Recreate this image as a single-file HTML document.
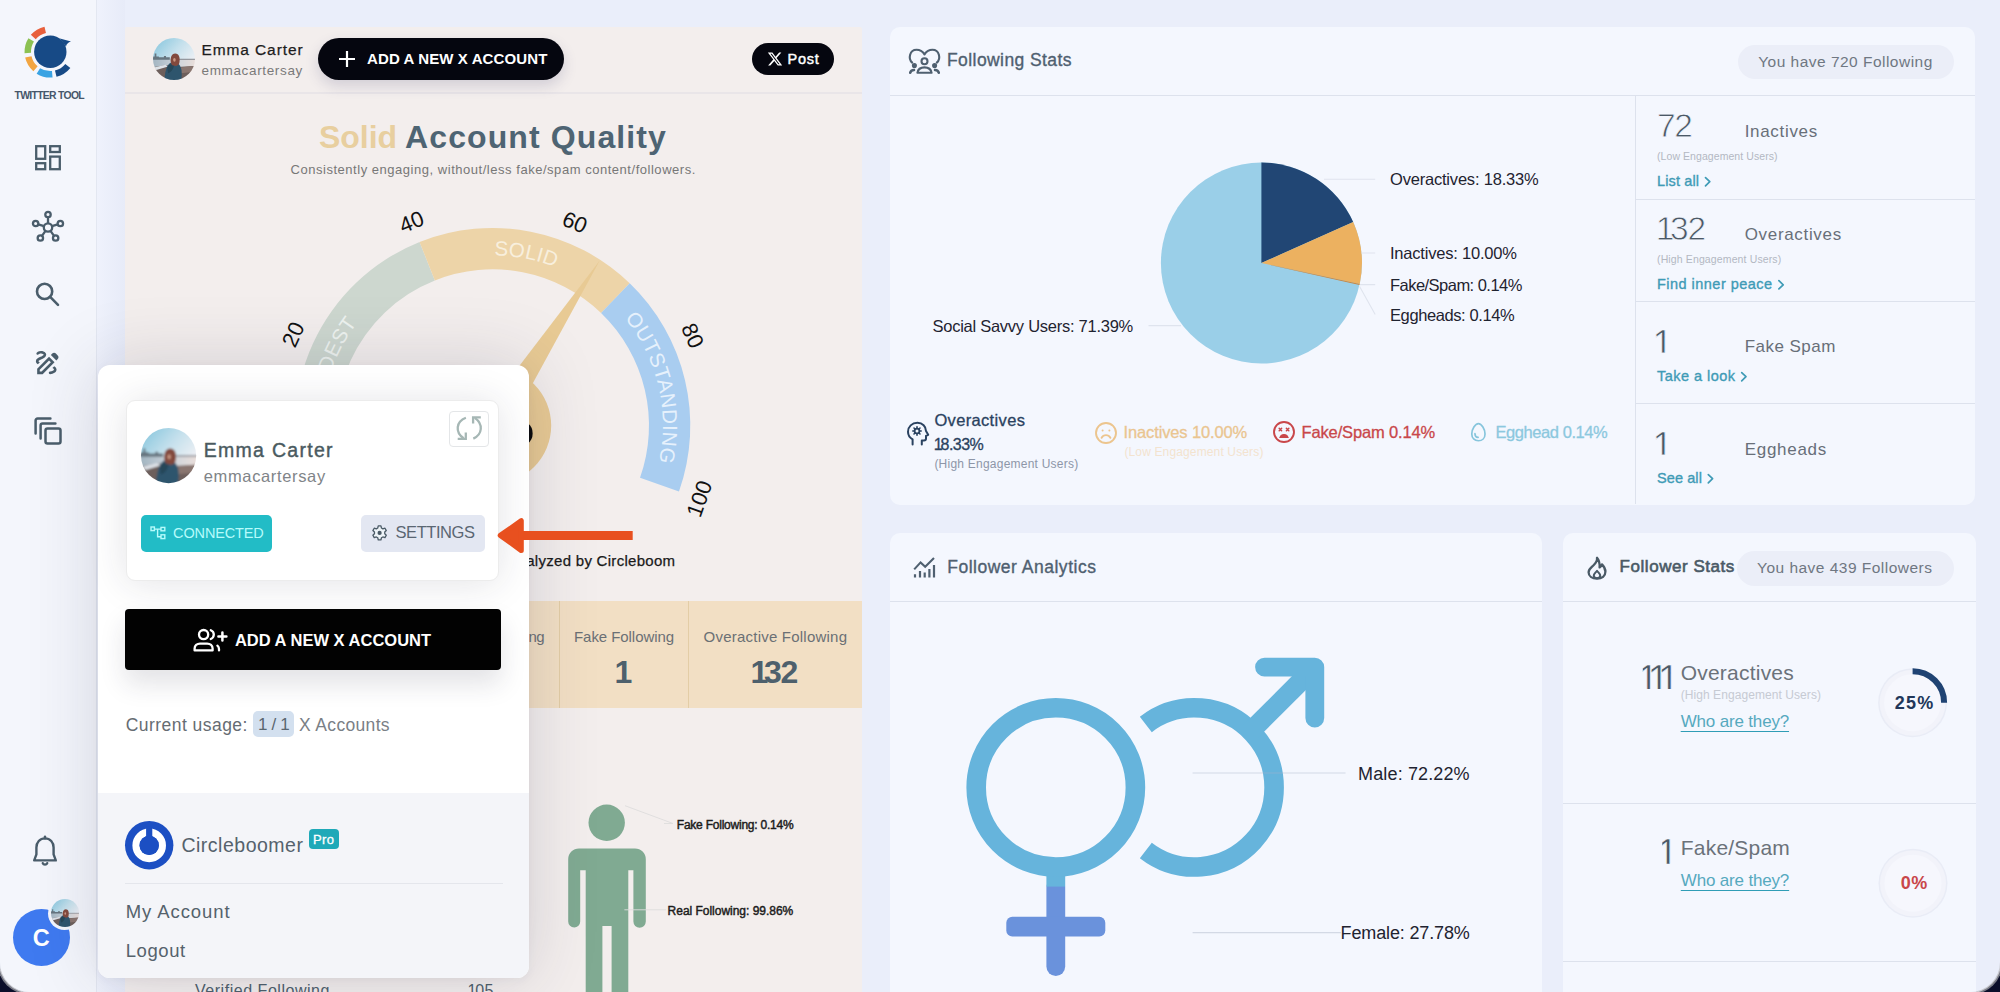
<!DOCTYPE html>
<html lang="en"><head><meta charset="utf-8"><title>Circleboom Twitter Tool</title>
<style>
*{box-sizing:border-box}
html,body{margin:0;padding:0}
body{width:2000px;height:992px;overflow:hidden;background:#0b0e2a;font-family:"Liberation Sans",sans-serif;position:relative}
#app{position:absolute;left:0;top:0;width:2000px;height:992px;background:#eaeefa;overflow:hidden;border-radius:0 0 30px 30px;box-shadow:0 0 0 1.2px #c9cad0,0 0 0 2.8px #7a7c86}
.t{position:absolute;white-space:pre;display:block}
.abs{position:absolute}
.card{position:absolute;background:#f4f7fe;border-radius:10px}
.hl{position:absolute;height:1px;background:#dfe4ee}
.vl{position:absolute;width:1px;background:#dfe4ee}
svg{position:absolute;overflow:visible}
</style></head><body><div id="app">
<svg width="0" height="0" style="position:absolute"><defs>
<linearGradient id="sky" x1="0" y1="0" x2="1" y2="0.9"><stop offset="0" stop-color="#79c0da"/><stop offset=".45" stop-color="#c4e0ec"/><stop offset=".8" stop-color="#f1f1f5"/></linearGradient>
<linearGradient id="wat" x1="0" y1="0" x2="1" y2="0"><stop offset="0" stop-color="#9fb2bf"/><stop offset=".55" stop-color="#cdd5dc"/><stop offset="1" stop-color="#ecdfda"/></linearGradient>
<filter id="avb" x="-5%" y="-5%" width="110%" height="110%"><feGaussianBlur stdDeviation="1.7"/></filter>
<clipPath id="avc"><circle cx="50" cy="50" r="50"/></clipPath>
<g id="avatar"><g clip-path="url(#avc)"><g filter="url(#avb)">
<rect x="-5" y="-5" width="110" height="110" fill="url(#sky)"/>
<rect x="-5" y="50" width="110" height="22" fill="url(#wat)"/>
<path d="M-5 44H4V37H8V44H14V46H26V43H31V46H40V52H-5Z" fill="#66757f"/>
<rect x="60" y="49.500" width="45" height="2.200" fill="#7b7f88"/>
<path d="M-5 70L34 64 40 70 105 66V105H-5Z" fill="#6d5f5b"/>
<path d="M2 70L30 63.500 36 68 8 76Z" fill="#dde2e8"/>
<path d="M64 70L105 66V80L66 84Z" fill="#8a7670"/>
<path d="M27 105C28 82 32 62 44 58C56 55 66 62 68 78C69 88 68 98 66 105Z" fill="#2e546d"/>
<path d="M34 70C38 62 46 60 50 66C48 76 42 82 36 84Z" fill="#254659"/>
<path d="M43 60C40 48 44 37 53 37C62 37 65 47 63 58C62 64 58 68 52 66C47 66 44 64 43 60Z" fill="#82493d"/>
<ellipse cx="51" cy="52" rx="3" ry="4.600" fill="#c99782"/>
</g></g></g>
</defs></svg><div class="abs" style="left:0;top:0;width:97px;height:992px;background:#f4f6fc;border-right:1px solid #e3e7f1"></div><svg style="left:0;top:0" width="97" height="120" viewBox="0 0 97 120"><path d="M44.50 26.66A25.8 25.8 0 0 0 30.83 34.87L35.73 39.14A19.3 19.3 0 0 1 45.96 32.99Z" fill="#e8603c"/><path d="M28.42 38.13A25.8 25.8 0 0 0 24.54 53.15L31.03 52.81A19.3 19.3 0 0 1 33.93 41.57Z" fill="#8cc152"/><path d="M25.16 57.60A25.8 25.8 0 0 0 33.37 71.27L37.64 66.37A19.3 19.3 0 0 1 31.49 56.14Z" fill="#f2a541"/><path d="M36.63 73.68A25.8 25.8 0 0 0 52.55 77.50L51.98 71.03A19.3 19.3 0 0 1 40.07 68.17Z" fill="#3aa3e3"/><path d="M56.54 76.83A25.8 25.8 0 0 0 70.35 68.04L65.30 63.95A19.3 19.3 0 0 1 54.97 70.53Z" fill="#174a86"/><circle cx="50.3" cy="51.8" r="16.2" fill="#174a86"/><path d="M60 38.5 L71 41.5 C68 42.5 66.5 44 66 46.5Z" fill="#174a86"/></svg><span class="t" style="left:14.5px;top:89.3px;font-size:10.4px;line-height:14px;color:#46566a;font-weight:700;letter-spacing:-0.69px;">TWITTER TOOL</span><svg style="left:34px;top:144px" width="28" height="28" viewBox="0 0 28 28" fill="none" stroke="#4a5d6b" stroke-width="2.3">
<rect x="2.2" y="2.2" width="9" height="12.6"/><rect x="16.2" y="2.2" width="9.6" height="5.8"/><rect x="2.2" y="19.2" width="9" height="6"/><rect x="16.2" y="12.6" width="9.6" height="12.6"/></svg><svg style="left:30px;top:209px" width="36" height="36" viewBox="0 0 36 36" fill="none" stroke="#4a5d6b" stroke-width="2.3"><circle cx="18" cy="18.5" r="4.2"/><circle cx="18.00" cy="5.50" r="2.7"/><path d="M18.00 14.30L18.00 8.20"/><circle cx="5.64" cy="14.48" r="2.7"/><path d="M14.01 17.20L8.20 15.32"/><circle cx="10.36" cy="29.02" r="2.7"/><path d="M15.53 21.90L11.95 26.83"/><circle cx="25.64" cy="29.02" r="2.7"/><path d="M20.47 21.90L24.05 26.83"/><circle cx="30.36" cy="14.48" r="2.7"/><path d="M21.99 17.20L27.80 15.32"/></svg><svg style="left:33px;top:280px" width="28" height="28" viewBox="0 0 28 28" fill="none" stroke="#4a5d6b" stroke-width="2.6" stroke-linecap="round">
<circle cx="11.6" cy="11.4" r="7.6"/><path d="M17.4 17.2L25 24.8"/></svg><svg style="left:31.500px;top:346.500px" width="31" height="31" viewBox="0 0 24 24" fill="#4a5d6b" fill-rule="evenodd">
<path d="M18.85 10.39l1.06-1.06c.78-.78.78-2.05 0-2.83L18.500 5.090c-.78-.78-2.050-.78-2.830 0l-1.060 1.060 4.240 4.240zM13.190 7.560L4 16.760V21h4.240l9.190-9.190-4.240-4.250zM13.190 10.390L14.600 11.810 7.410 19H6v-1.410zM19 17.500c0 2.190-2.540 3.500-5 3.500-.55 0-1-.45-1-1s.45-1 1-1c1.540 0 3-.73 3-1.500 0-.47-.48-.87-1.230-1.200l1.480-1.480c1.070.63 1.750 1.470 1.750 2.680zM4.580 13.350C3.610 12.790 3 12.060 3 11c0-1.800 1.890-2.630 3.560-3.360C7.590 7.180 9 6.560 9 6c0-.41-.78-1-2-1-1.260 0-1.800.61-1.830.64-.35.410-.98.460-1.400.12-.41-.34-.49-.95-.15-1.380C3.730 4.240 4.760 3 7 3s4 1.320 4 3c0 1.870-1.930 2.720-3.640 3.470C6.420 9.880 5 10.500 5 11c0 .31.430.6 1.070.86l-1.490 1.490z"/></svg><svg style="left:33px;top:416px" width="30" height="30" viewBox="0 0 30 30" fill="none" stroke="#4a5d6b" stroke-width="2.5" stroke-linejoin="round" stroke-linecap="round">
<rect x="12.5" y="12.5" width="15" height="15" rx="2"/><path d="M7.6 22.4V9.6a2 2 0 0 1 2-2H22.4"/><path d="M2.6 17.4V4.6a2 2 0 0 1 2-2H17.4"/></svg><svg style="left:31px;top:835px" width="28" height="32" viewBox="0 0 28 32" fill="none" stroke="#4a5d6b" stroke-width="2.4" stroke-linejoin="round" stroke-linecap="round">
<path d="M14 3.4c-5.2 0-8.6 4-8.6 9.2v6.8L3.2 25.4h21.6l-2.2-6v-6.8c0-5.2-3.4-9.2-8.6-9.2z"/><path d="M11.8 28.2a2.4 2.4 0 0 0 4.4 0"/><path d="M14 1.6v1.8"/></svg><div class="abs" style="left:13px;top:909px;width:57px;height:57px;border-radius:50%;background:#3f7af0;box-shadow:0 0 0 1.5px #f4f6fc"></div><span class="t" style="left:32.8px;top:922.8px;font-size:23.5px;line-height:31px;color:#fff;font-weight:700;">C</span><div class="abs" style="left:48.400px;top:896.700px;width:33px;height:33px;border-radius:50%;background:#f4f6fc"></div><svg style="left:50.900px;top:899.200px" width="28" height="28" viewBox="0 0 100 100"><use href="#avatar"/></svg><div class="abs" style="left:97px;top:0;width:28px;height:992px;background:linear-gradient(90deg,#eff2fc,#e7ebf8)"></div><div class="abs" style="left:125px;top:27px;width:737px;height:965px;background:#f3eeed;border-radius:2px 2px 0 0"></div><div class="hl" style="left:125px;top:92px;width:737px;background:#e9e5e8;height:2px"></div><svg style="left:153px;top:38px" width="42" height="42" viewBox="0 0 100 100"><use href="#avatar"/></svg><span class="t" style="left:201.5px;top:39.8px;font-size:15.5px;line-height:20px;color:#1d1d1d;letter-spacing:0.89px;-webkit-text-stroke:.25px #1d1d1d;">Emma Carter</span><span class="t" style="left:201.5px;top:61.8px;font-size:13.5px;line-height:18px;color:#7a7a7a;letter-spacing:0.65px;">emmacartersay</span><div class="abs" style="left:318px;top:38px;width:246px;height:42px;border-radius:21px;background:#05060f;box-shadow:0 6px 14px rgba(60,60,110,.18)"></div><svg style="left:338px;top:50px" width="18" height="18" viewBox="0 0 18 18" stroke="#fff" stroke-width="2.2" fill="none"><path d="M9 1v16M1 9h16"/></svg><span class="t" style="left:367.0px;top:48.9px;font-size:15px;line-height:20px;color:#fff;font-weight:700;letter-spacing:0.11px;">ADD A NEW X ACCOUNT</span><div class="abs" style="left:752px;top:43px;width:82px;height:32px;border-radius:16px;background:#05060f"></div><svg style="left:766.800px;top:51.400px" width="16" height="16" viewBox="0 0 24 24" fill="#fff"><path d="M18.244 2.25h3.308l-7.227 8.26 8.502 11.24H16.17l-5.214-6.817L4.99 21.75H1.68l7.73-8.835L1.254 2.25H8.08l4.713 6.231zm-1.161 17.52h1.833L7.084 4.126H5.117z"/></svg><span class="t" style="left:787.5px;top:49.5px;font-size:14.5px;line-height:19px;color:#fff;letter-spacing:0.75px;-webkit-text-stroke:.45px #fff;">Post</span><span class="t" style="left:319.0px;top:116.3px;font-size:32px;line-height:42px;color:#e8cf9f;font-weight:700;letter-spacing:-0.04px;">Solid</span><span class="t" style="left:405.0px;top:116.3px;font-size:32px;line-height:42px;color:#4e6473;font-weight:700;letter-spacing:1.11px;">Account Quality</span><span class="t" style="left:290.5px;top:160.6px;font-size:13px;line-height:17px;color:#777;letter-spacing:0.53px;">Consistently engaging, without/less fake/spam content/followers.</span><svg style="left:0;top:0" width="2000" height="992" viewBox="0 0 2000 992"><path d="M419.57 242.03A197.6 197.6 0 0 0 306.09 490.58L345.09 477.00A156.3 156.3 0 0 1 434.86 280.40Z" fill="#cdd7cf"/><path d="M629.69 283.20A197.6 197.6 0 0 0 419.57 242.03L434.86 280.40A156.3 156.3 0 0 1 601.06 312.96Z" fill="#edd4a8"/><path d="M678.97 491.56A197.6 197.6 0 0 0 629.69 283.20L601.06 312.96A156.3 156.3 0 0 1 640.03 477.77Z" fill="#a9cdf0"/><defs><path id="garc" d="M331.97 481.57A170.2 170.2 0 1 1 653.14 482.41"/></defs><text font-size="20.5" fill="#eef3ef" letter-spacing="0.6" text-anchor="middle"><textPath href="#garc" startOffset="18.8%">MODEST</textPath></text><text font-size="20.5" fill="#f8efdd" letter-spacing="0.2" text-anchor="middle"><textPath href="#garc" startOffset="55%">SOLID</textPath></text><text font-size="20.5" fill="#e6f1fc" letter-spacing="0.55" text-anchor="middle"><textPath href="#garc" startOffset="85%">OUTSTANDING</textPath></text><path d="M599.76 260.47L480.11 417.44L505.29 433.76Z" fill="#e8ca94"/><circle cx="492.7" cy="425.6" r="58.5" fill="#e8ca94"/><clipPath id="hubclip"><rect x="400" y="423.5" width="200" height="22"/></clipPath><text x="451.7" y="447.1" font-size="60" font-weight="700" fill="#0b0b0b" textLength="83" lengthAdjust="spacingAndGlyphs" clip-path="url(#hubclip)">65</text><text transform="translate(293.2 334.5) rotate(-65.5)" font-size="22" fill="#111" text-anchor="middle" dominant-baseline="central">20</text><text transform="translate(411.5 221.9) rotate(-21.7)" font-size="22" fill="#111" text-anchor="middle" dominant-baseline="central">40</text><text transform="translate(574.9 222.3) rotate(22.0)" font-size="22" fill="#111" text-anchor="middle" dominant-baseline="central">60</text><text transform="translate(692.7 335.6) rotate(65.8)" font-size="22" fill="#111" text-anchor="middle" dominant-baseline="central">80</text><text transform="translate(699.4 498.8) rotate(-70.5)" font-size="22" fill="#111" text-anchor="middle" dominant-baseline="central">100</text></svg><span class="t" style="left:526.2px;top:550.6px;font-size:15px;line-height:20px;color:#1a1a1a;letter-spacing:0.29px;-webkit-text-stroke:.25px #1a1a1a;">alyzed by Circleboom</span><span class="t" style="left:415.5px;top:550.6px;font-size:15px;line-height:20px;color:#1a1a1a;">Emma Carter an</span><div class="abs" style="left:125px;top:601.4px;width:737px;height:107px;background:#f2dfc4"></div><div class="vl" style="left:558.5px;top:601.4px;height:107px;background:#e3cda6"></div><div class="vl" style="left:688.3px;top:601.4px;height:107px;background:#e3cda6"></div><span class="t" style="left:528.4px;top:626.8px;font-size:15px;line-height:20px;color:#6b7075;letter-spacing:-0.54px;">ng</span><span class="t" style="left:425.0px;top:626.8px;font-size:15px;line-height:20px;color:#6b7075;">Inactive Followi</span><span class="t" style="left:574.0px;top:626.5px;font-size:15px;line-height:20px;color:#6b7075;letter-spacing:-0.06px;">Fake Following</span><span class="t" style="left:703.6px;top:626.5px;font-size:15px;line-height:20px;color:#6b7075;letter-spacing:0.22px;">Overactive Following</span><span class="t" style="left:614.6px;top:650.5px;font-size:32px;line-height:42px;color:#4e606c;font-weight:700;">1</span><span class="t" style="left:753.6px;top:650.5px;font-size:32px;line-height:42px;color:#4e606c;font-weight:700;letter-spacing:-1.14px;"><b style="font-weight:inherit;margin:0 -0.1em">1</b>32</span><svg style="left:0;top:0" width="2000" height="992" viewBox="0 0 2000 992">
<circle cx="606.7" cy="822.8" r="18.2" fill="#80aa92"/>
<path d="M579 848.4H635a10.8 10.8 0 0 1 10.8 10.8V921.5a6.2 6.2 0 0 1-12.4 0V870.2h-5.1V1000H611.6V926h-9.2V1000H585.7V870.2h-5.5V921.5a6 6 0 0 1-12 0V859.2A10.8 10.8 0 0 1 579 848.4Z" fill="#80aa92"/>
<path d="M625 805.7L672.5 823.3M664 823.5H673M624.4 909.8H666" stroke="#dedcdc" stroke-width=".9" fill="none"/>
</svg><span class="t" style="left:676.8px;top:817.3px;font-size:12px;line-height:16px;color:#1c1c1c;letter-spacing:-0.23px;-webkit-text-stroke:.45px #1c1c1c;">Fake Following: 0.14%</span><span class="t" style="left:667.6px;top:903.3px;font-size:12px;line-height:16px;color:#1c1c1c;letter-spacing:-0.02px;-webkit-text-stroke:.45px #1c1c1c;">Real Following: 99.86%</span><span class="t" style="left:195.0px;top:979.8px;font-size:16px;line-height:21px;color:#4e606c;letter-spacing:0.53px;">Verified Following</span><span class="t" style="left:468.7px;top:979.8px;font-size:16px;line-height:21px;color:#4e606c;letter-spacing:0.28px;"><b style="font-weight:inherit;margin:0 -0.08em">1</b>05</span><div class="card" style="left:889.5px;top:27px;width:1085.5px;height:477.5px;background:#f4f7fe"></div><div class="hl" style="left:889.5px;top:94.6px;width:1085.5px;background:#dde2ed;height:1.4px"></div><div class="vl" style="left:1634.5px;top:95px;height:409px;background:#dde2ed;width:1.4px"></div><div class="hl" style="left:1635px;top:198.6px;width:340px;background:#dde2ed;height:1.4px"></div><div class="hl" style="left:1635px;top:300.7px;width:340px;background:#dde2ed;height:1.4px"></div><div class="hl" style="left:1635px;top:402.7px;width:340px;background:#dde2ed;height:1.4px"></div><svg style="left:908px;top:47px" width="33" height="28" viewBox="0 0 33 28" fill="none" stroke="#4f6070" stroke-width="2.1" stroke-linecap="round" stroke-linejoin="round">
<path d="M4.2 15.6C-0.2 11.6 1.6 2.8 8.6 2.8c3.6 0 6.2 2 7.9 4.6C18.2 4.8 20.8 2.8 24.4 2.8c7 0 8.8 8.8 4.4 12.8"/>
<circle cx="16.5" cy="14.2" r="3"/>
<path d="M9.4 25.8c.6-3.6 3.4-5.4 7.1-5.4s6.500 1.800 7.100 5.400z"/>
<circle cx="6.4" cy="18.6" r="1.5" fill="#4f6070"/><circle cx="26.600" cy="18.600" r="1.500" fill="#4f6070"/>
<path d="M2.2 25.8c.4-1.800 1.800-2.800 3.800-2.800M30.800 25.800c-.4-1.800-1.800-2.800-3.800-2.800" stroke-width="2.600"/>
</svg><span class="t" style="left:947.0px;top:49.3px;font-size:17.5px;line-height:23px;color:#4f6070;letter-spacing:0.42px;-webkit-text-stroke:.35px #4f6070;">Following Stats</span><div class="abs" style="left:1737.5px;top:44.5px;width:216px;height:34.8px;border-radius:17.4px;background:#ebeef8"></div><span class="t" style="left:1758.2px;top:52.1px;font-size:15.5px;line-height:20px;color:#6f7782;letter-spacing:0.48px;">You have 720 Following</span><svg style="left:0;top:0" width="2000" height="992" viewBox="0 0 2000 992"><circle cx="1261.4" cy="263" r="100.5" fill="#9acfe8"/><path d="M1261.4 263L1261.40 162.50A100.5 100.5 0 0 1 1353.21 222.12Z" fill="#214674"/><path d="M1261.4 263L1353.21 222.12A100.5 100.5 0 0 1 1359.70 283.90Z" fill="#ecb160"/><path d="M1261.4 263L1359.70 283.90A100.5 100.5 0 0 1 1359.48 284.92Z" fill="#c9853f"/><path d="M1324 179.2H1375.2M1361.5 253H1375.2M1360 284.6H1375.2M1359.6 286.4L1375.2 314.6M1148.5 325.6H1181" stroke="#dfe4ee" stroke-width="1.1" fill="none"/></svg><span class="t" style="left:1390.0px;top:169.1px;font-size:16.5px;line-height:21px;color:#1f2330;letter-spacing:-0.20px;">Overactives: 18.33%</span><span class="t" style="left:1390.0px;top:242.9px;font-size:16.5px;line-height:21px;color:#1f2330;letter-spacing:-0.21px;">Inactives: 10.00%</span><span class="t" style="left:1390.0px;top:275.1px;font-size:16.5px;line-height:21px;color:#1f2330;letter-spacing:-0.53px;">Fake/Spam: 0.14%</span><span class="t" style="left:1390.0px;top:305.3px;font-size:16.5px;line-height:21px;color:#1f2330;letter-spacing:-0.40px;">Eggheads: 0.14%</span><span class="t" style="left:932.5px;top:315.8px;font-size:16.5px;line-height:21px;color:#1f2330;letter-spacing:-0.26px;">Social Savvy Users: 71.39%</span><svg style="left:905px;top:420px" width="26" height="26" viewBox="0 0 26 26" fill="none" stroke="#2a4260" stroke-width="2" stroke-linecap="round" stroke-linejoin="round">
<path d="M7.600 24.500v-5.200C4.600 17.700 3 15 3 11.800 3 6.600 7 2.800 12.400 2.800c5.200 0 8.600 3.600 8.600 8.200l2.200 3.800-2.200 1v2.600c0 1.200-.8 2-2 2h-2.200v4.100"/>
<circle cx="12" cy="11" r="2.400" stroke-width="1.800"/>
<path d="M12 6.800v1.400M12 13.800v1.400M7.800 11h1.400M14.800 11h1.400M9 8l1 1M14 13l1 1M15 8l-1 1M10 13l-1 1" stroke-width="1.600"/>
</svg><span class="t" style="left:934.4px;top:410.4px;font-size:16.5px;line-height:21px;color:#2a4260;letter-spacing:0.34px;-webkit-text-stroke:.3px #2a4260;">Overactives</span><span class="t" style="left:935.3px;top:434.0px;font-size:16px;line-height:21px;color:#2a4260;letter-spacing:-0.52px;-webkit-text-stroke:.3px #2a4260;"><b style="font-weight:inherit;margin:0 -0.1em">1</b>8.33%</span><span class="t" style="left:934.4px;top:455.9px;font-size:12px;line-height:16px;color:#8d96a8;letter-spacing:0.23px;">(High Engagement Users)</span><svg style="left:1094px;top:420.500px" width="24" height="24" viewBox="0 0 24 24" fill="none" stroke="#ecc58e" stroke-width="1.900" stroke-linecap="round">
<circle cx="12" cy="12" r="10"/><path d="M7.600 16.800c1-1.800 2.600-2.700 4.400-2.700s3.400.9 4.400 2.700"/><circle cx="8.600" cy="9.600" r="1" fill="#ecc58e" stroke="none"/><circle cx="15.400" cy="9.600" r="1" fill="#ecc58e" stroke="none"/></svg><span class="t" style="left:1123.6px;top:422.0px;font-size:16.5px;line-height:21px;color:#eac590;letter-spacing:-0.14px;-webkit-text-stroke:.3px #eac590;">Inactives 10.00%</span><span class="t" style="left:1124.4px;top:444.3px;font-size:12px;line-height:16px;color:#f3e3cf;letter-spacing:0.14px;">(Low Engagement Users)</span><svg style="left:1272.400px;top:420.400px" width="24" height="24" viewBox="0 0 24 24" fill="none" stroke="#c9474a" stroke-width="1.900" stroke-linecap="round">
<circle cx="12" cy="12" r="10"/><path d="M8 17.400c.8-2 2.200-2.800 4-2.800s3.200.8 4 2.800z" fill="#c9474a" stroke-width="1.200"/><path d="M7.200 8.400l2.400 2.400M9.600 8.400l-2.400 2.400M14.400 8.400l2.400 2.400M16.800 8.400l-2.400 2.400" stroke-width="1.500"/></svg><span class="t" style="left:1301.6px;top:422.3px;font-size:16.5px;line-height:21px;color:#c9474a;letter-spacing:-0.16px;-webkit-text-stroke:.3px #c9474a;">Fake/Spam 0.14%</span><svg style="left:1469.700px;top:422px" width="16.800" height="20.400" viewBox="0 0 19 23" fill="none" stroke="#86c5dc" stroke-width="1.900" stroke-linecap="round">
<path d="M9.500 1.800c3.600 0 7.500 6.400 7.500 11.600 0 4.800-3.200 7.800-7.500 7.800S2 18.200 2 13.400C2 8.200 5.900 1.800 9.500 1.800z"/><path d="M5.600 13.200c0 2.400 1.400 4 3.600 4.200"/></svg><span class="t" style="left:1495.4px;top:422.3px;font-size:16.5px;line-height:21px;color:#8cc8de;letter-spacing:-0.42px;-webkit-text-stroke:.3px #8cc8de;">Egghead 0.14%</span><span class="t" style="left:1657.0px;top:103.8px;font-size:33.5px;line-height:44px;color:#4b5966;letter-spacing:-1.28px;-webkit-text-stroke:.8px #f4f7fe;">72</span><span class="t" style="left:1744.7px;top:120.8px;font-size:17px;line-height:22px;color:#686f79;letter-spacing:0.68px;">Inactives</span><span class="t" style="left:1657.0px;top:149.4px;font-size:10.5px;line-height:14px;color:#b3b8c2;letter-spacing:0.07px;">(Low Engagement Users)</span><span class="t" style="left:1657.0px;top:171.8px;font-size:14.5px;line-height:19px;color:#3f9bb6;letter-spacing:0.14px;-webkit-text-stroke:.35px #3f9bb6;">List all</span><svg style="left:0;top:0" width="2000" height="992" viewBox="0 0 2000 992" fill="none"><path d="M1705.5 177.6L1709.8 181.7L1705.5 185.8" stroke="#3f9bb6" stroke-width="1.7" stroke-linecap="round" stroke-linejoin="round"/></svg><span class="t" style="left:1658.7px;top:207.1px;font-size:33.5px;line-height:44px;color:#4b5966;letter-spacing:-1.24px;-webkit-text-stroke:.8px #f4f7fe;"><b style="font-weight:inherit;margin:0 -0.09em">1</b>32</span><span class="t" style="left:1744.7px;top:223.9px;font-size:17px;line-height:22px;color:#686f79;letter-spacing:0.67px;">Overactives</span><span class="t" style="left:1657.0px;top:252.3px;font-size:10.5px;line-height:14px;color:#b3b8c2;letter-spacing:0.13px;">(High Engagement Users)</span><span class="t" style="left:1657.0px;top:274.9px;font-size:14.5px;line-height:19px;color:#3f9bb6;letter-spacing:0.47px;-webkit-text-stroke:.35px #3f9bb6;">Find inner peace</span><svg style="left:0;top:0" width="2000" height="992" viewBox="0 0 2000 992" fill="none"><path d="M1778.9 280.7L1783.2 284.8L1778.9 288.9" stroke="#3f9bb6" stroke-width="1.7" stroke-linecap="round" stroke-linejoin="round"/></svg><span class="t" style="left:1652.6px;top:319.6px;font-size:36.5px;line-height:47px;color:#4b5966;-webkit-text-stroke:.7px #f4f7fe;clip-path:inset(0 0 14.1px 0);">1</span><span class="t" style="left:1744.7px;top:336.4px;font-size:17px;line-height:22px;color:#686f79;letter-spacing:0.47px;">Fake Spam</span><span class="t" style="left:1657.0px;top:366.8px;font-size:14.5px;line-height:19px;color:#3f9bb6;letter-spacing:0.46px;-webkit-text-stroke:.35px #3f9bb6;">Take a look</span><svg style="left:0;top:0" width="2000" height="992" viewBox="0 0 2000 992" fill="none"><path d="M1741.7 372.6L1746.0 376.7L1741.7 380.8" stroke="#3f9bb6" stroke-width="1.7" stroke-linecap="round" stroke-linejoin="round"/></svg><span class="t" style="left:1652.6px;top:421.6px;font-size:36.5px;line-height:47px;color:#4b5966;-webkit-text-stroke:.7px #f4f7fe;clip-path:inset(0 0 14.1px 0);">1</span><span class="t" style="left:1744.7px;top:438.5px;font-size:17px;line-height:22px;color:#686f79;letter-spacing:0.72px;">Eggheads</span><span class="t" style="left:1657.0px;top:468.8px;font-size:14.5px;line-height:19px;color:#3f9bb6;letter-spacing:0.09px;-webkit-text-stroke:.35px #3f9bb6;">See all</span><svg style="left:0;top:0" width="2000" height="992" viewBox="0 0 2000 992" fill="none"><path d="M1708.3 474.6L1712.6 478.7L1708.3 482.8" stroke="#3f9bb6" stroke-width="1.7" stroke-linecap="round" stroke-linejoin="round"/></svg><div class="card" style="left:889.5px;top:533px;width:652px;height:480px;background:#f4f7fe"></div><div class="hl" style="left:889.5px;top:600.8px;width:652px;background:#dde2ed;height:1.4px"></div><svg style="left:912px;top:556px" width="24" height="23" viewBox="0 0 24 23" fill="none" stroke="#4f6070" stroke-width="2.1" stroke-linecap="butt" stroke-linejoin="miter">
<path d="M2.200 13.400L8.600 6.400 13.200 10.800 22 2"/>
<path d="M3 18.200v3.300M8 15v6.500M12.700 16.600v4.900M17.400 13v8.500M22 9v12.500" stroke-width="2.200"/></svg><span class="t" style="left:947.2px;top:556.0px;font-size:17.5px;line-height:23px;color:#4f6070;letter-spacing:0.51px;-webkit-text-stroke:.35px #4f6070;">Follower Analytics</span><svg style="left:0;top:0" width="2000" height="992" viewBox="0 0 2000 992" fill="none">
<path d="M1055.8 887V966.500" stroke="#6a92dc" stroke-width="18.800" stroke-linecap="round"/>
<path d="M1055.8 870V886.600" stroke="#66b4dc" stroke-width="18.800"/>
<rect x="1006.300" y="916.700" width="99" height="19.900" rx="6" fill="#6a92dc"/>
<circle cx="1055.8" cy="787.4" r="79.6" stroke="#66b4dc" stroke-width="19.600"/>
<path d="M1145.82 724.42A79.6 79.6 0 1 1 1145.82 850.38" stroke="#66b4dc" stroke-width="19.600"/>
<path d="M1250 732L1313 669" stroke="#66b4dc" stroke-width="19.600"/>
<path d="M1264.500 667.100H1314.800V718" stroke="#66b4dc" stroke-width="18.800" stroke-linecap="round" stroke-linejoin="round"/>
<path d="M1192.600 773H1345.500M1192.600 932.700H1341" stroke="rgba(170,180,200,.45)" stroke-width="1.200"/>
</svg><span class="t" style="left:1358.1px;top:762.6px;font-size:18px;line-height:23px;color:#1f2330;letter-spacing:0.13px;">Male: 72.22%</span><span class="t" style="left:1340.6px;top:921.9px;font-size:18px;line-height:23px;color:#1f2330;letter-spacing:-0.14px;">Female: 27.78%</span><div class="card" style="left:1563px;top:533px;width:412.500px;height:480px;background:#f4f7fe"></div><div class="hl" style="left:1563px;top:600.8px;width:412.500px;background:#dde2ed;height:1.4px"></div><div class="hl" style="left:1563px;top:803px;width:412.500px;background:#dde2ed;height:1.4px"></div><div class="hl" style="left:1563px;top:961px;width:412.500px;background:#dde2ed;height:1.4px"></div><svg style="left:1586px;top:556px" width="22" height="24" viewBox="0 0 22 24" fill="none" stroke="#4a5a66" stroke-width="2.300" stroke-linecap="round" stroke-linejoin="round">
<path d="M11 1.800c.6 3.400-1 5-3.200 7.200C5.200 11.600 2.600 13 2.600 16.200c0 3.800 3.400 6.400 8.400 6.400s8.400-2.600 8.400-6.800c0-3-1.600-5.600-3.400-7.400-.6 1.600-1.200 2.400-2.400 3 .2-3.800-.8-7.600-2.600-9.600z"/>
<path d="M11 22.200c-2 0-3.200-1.200-3.200-2.800 0-1.600 1.600-2.600 3.200-4.600 1.600 2 3.200 3 3.200 4.600 0 1.600-1.200 2.800-3.200 2.800z" stroke-width="2"/></svg><span class="t" style="left:1619.6px;top:556.2px;font-size:17px;line-height:22px;color:#4a5a66;letter-spacing:0.54px;-webkit-text-stroke:.6px #4a5a66;">Follower Stats</span><div class="abs" style="left:1736.500px;top:550.600px;width:217px;height:35.400px;border-radius:17.700px;background:#ebeef8"></div><span class="t" style="left:1757.0px;top:558.3px;font-size:15.5px;line-height:20px;color:#6f7782;letter-spacing:0.48px;">You have 439 Followers</span><span class="t" style="left:1642.8px;top:652.6px;font-size:40px;line-height:52px;color:#4b5966;letter-spacing:0.08px;-webkit-text-stroke:.7px #f4f7fe;clip-path:inset(0 0 15.6px 0);"><b style="font-weight:inherit;margin:0 -0.15em">1</b><b style="font-weight:inherit;margin:0 -0.15em">1</b><b style="font-weight:inherit;margin:0 -0.15em">1</b></span><span class="t" style="left:1680.7px;top:659.3px;font-size:21px;line-height:27px;color:#6b727a;letter-spacing:0.22px;">Overactives</span><span class="t" style="left:1680.7px;top:687.1px;font-size:12px;line-height:16px;color:#c6cad3;letter-spacing:0.07px;">(High Engagement Users)</span><span class="t" style="left:1680.7px;top:710.8px;font-size:17px;line-height:22px;color:#56a9be;letter-spacing:-0.17px;text-decoration:underline;text-decoration-thickness:1.3px;text-underline-offset:4px;text-decoration-color:#2f9db6;">Who are they?</span><span class="t" style="left:1662.3px;top:827.3px;font-size:40px;line-height:52px;color:#4b5966;-webkit-text-stroke:.7px #f4f7fe;clip-path:inset(0 0 15.6px 0);"><b style="font-weight:inherit;margin:0 -0.15em">1</b></span><span class="t" style="left:1680.8px;top:834.0px;font-size:21px;line-height:27px;color:#6b727a;letter-spacing:0.20px;">Fake/Spam</span><span class="t" style="left:1680.8px;top:869.5px;font-size:17px;line-height:22px;color:#56a9be;letter-spacing:-0.17px;text-decoration:underline;text-decoration-thickness:1.3px;text-underline-offset:4px;text-decoration-color:#2f9db6;">Who are they?</span><svg style="left:0;top:0" width="2000" height="992" viewBox="0 0 2000 992" fill="none"><circle cx="1912.6" cy="702.7" r="34.500" fill="#e9ecf6"/><circle cx="1912.6" cy="702.7" r="33" fill="#f2f3fa"/><circle cx="1912.6" cy="702.7" r="28.500" fill="#f6f7fd"/><path d="M1912.6 671.2A31.500 31.500 0 0 1 1944.1 702.7" stroke="#1f4373" stroke-width="6"/></svg><svg style="left:0;top:0" width="2000" height="992" viewBox="0 0 2000 992" fill="none"><circle cx="1913" cy="883.2" r="34.500" fill="#e9ecf6"/><circle cx="1913" cy="883.2" r="33" fill="#f2f3fa"/><circle cx="1913" cy="883.2" r="28.500" fill="#f6f7fd"/></svg><span class="t" style="left:1894.8px;top:692.2px;font-size:18px;line-height:23px;color:#22375a;font-weight:700;letter-spacing:1.16px;">25%</span><span class="t" style="left:1900.7px;top:872.2px;font-size:18px;line-height:23px;color:#c9474a;font-weight:700;letter-spacing:0.64px;">0%</span><div class="abs" style="left:97.500px;top:364.500px;width:431px;height:613.500px;border-radius:12px;background:#fff;box-shadow:0 0 70px rgba(40,40,70,.17),0 2px 10px rgba(40,40,70,.05);overflow:hidden"><div class="abs" style="left:0;top:428.700px;width:431px;height:185px;background:#f4f5f9"></div></div><div class="abs" style="left:126px;top:400.400px;width:373.400px;height:180.300px;border-radius:9px;background:#fff;border:1px solid #ececec;box-shadow:0 2px 38px rgba(40,40,60,.13)"></div><svg style="left:140.700px;top:428.400px" width="55.200" height="55.200" viewBox="0 0 100 100"><use href="#avatar"/></svg><span class="t" style="left:203.7px;top:437.6px;font-size:19.5px;line-height:25px;color:#4a5a60;letter-spacing:1.29px;-webkit-text-stroke:.4px #4a5a60;">Emma Carter</span><span class="t" style="left:203.7px;top:465.8px;font-size:16.5px;line-height:21px;color:#808488;letter-spacing:0.65px;">emmacartersay</span><div class="abs" style="left:448.600px;top:411.200px;width:40px;height:36px;border-radius:4px;border:1px solid #e4e6e8;background:#fff"></div><svg style="left:448.600px;top:411.200px" width="40" height="36" viewBox="0 0 40 36" fill="none" stroke="#a6b7b5" stroke-width="2.300" stroke-linecap="butt" stroke-linejoin="miter">
<path d="M16.900 6.700C7 10.500 5.800 21 14.600 27.200"/><path d="M8.700 27.800H16.800V21.600"/>
<path d="M24.300 27.600C33.500 23.500 34.500 13 25.800 6.900"/><path d="M31.800 6.400H24.100V12.500"/></svg><div class="abs" style="left:140.800px;top:515.100px;width:131.700px;height:36.500px;border-radius:5px;background:#22bcc6"></div><svg style="left:150.200px;top:525.900px" width="16" height="14" viewBox="0 0 16 14" fill="none" stroke="#b6fbfb" stroke-width="1.400">
<rect x="1" y="1" width="3.400" height="3.600"/><rect x="11" y="1.400" width="3.800" height="3.400"/><rect x="11" y="8.800" width="3.800" height="3.800"/><path d="M4.400 3.100H11M7.600 3.100V10.800H11"/></svg><span class="t" style="left:173.1px;top:523.7px;font-size:14.5px;line-height:19px;color:#b6fbfb;letter-spacing:-0.14px;">CONNECTED</span><div class="abs" style="left:361.100px;top:515.100px;width:123.900px;height:36.500px;border-radius:5px;background:#e3e7f2"></div><svg style="left:0;top:0" width="2000" height="992" viewBox="0 0 2000 992"><path d="M380.95 525.93L378.25 525.93L377.74 528.05L376.33 528.86L374.24 528.24L372.89 530.59L374.46 532.09L374.46 533.71L372.89 535.21L374.24 537.56L376.33 536.94L377.74 537.75L378.25 539.87L380.95 539.87L381.46 537.75L382.87 536.94L384.96 537.56L386.31 535.21L384.74 533.71L384.74 532.09L386.31 530.59L384.96 528.24L382.87 528.86L381.46 528.05Z" fill="#edf3f7" stroke="#4a5a66" stroke-width="1.300" stroke-linejoin="round"/><circle cx="379.600" cy="532.900" r="2.100" fill="#4a5a66"/></svg><span class="t" style="left:395.5px;top:522.4px;font-size:16.5px;line-height:21px;color:#5a6672;letter-spacing:-0.43px;">SETTINGS</span><svg style="left:0;top:0" width="2000" height="992" viewBox="0 0 2000 992"><path d="M520 531H632.700V540H520Z" fill="#e8501f"/><path d="M500.200 535.400L521.300 520.600V550.600Z" fill="#e8501f" stroke="#e8501f" stroke-width="5" stroke-linejoin="round"/></svg><div class="abs" style="left:125.300px;top:609.300px;width:375.600px;height:61.200px;border-radius:4px;background:#020202;box-shadow:0 14px 26px rgba(40,40,60,.13)"></div><svg style="left:193px;top:628px" width="35" height="24" viewBox="0 0 35 24" fill="none" stroke="#fff" stroke-width="2.300" stroke-linecap="round" stroke-linejoin="round">
<circle cx="10.600" cy="6.600" r="4.600"/><path d="M1.600 22.400v-1.800c0-3 2.400-5 5.400-5h7.200c3 0 5.400 2 5.400 5v1.800z"/>
<path d="M17.800 2.200c2 .8 3 2.400 3 4.400s-1 3.600-3 4.400M24.400 17.600c1 .8 1.600 2 1.600 3.400v1.400"/>
<path d="M29.400 4.400v8M25.400 8.400h8" stroke-width="2.500"/></svg><span class="t" style="left:234.9px;top:629.7px;font-size:16.5px;line-height:21px;color:#fff;font-weight:700;">ADD A NEW X ACCOUNT</span><span class="t" style="left:125.7px;top:713.8px;font-size:17.5px;line-height:23px;color:#666c72;letter-spacing:0.46px;">Current usage:</span><div class="abs" style="left:252.900px;top:711px;width:41.200px;height:25.500px;border-radius:5px;background:#d3e0ef"></div><span class="t" style="left:259.8px;top:714.3px;font-size:17px;line-height:22px;color:#5a6670;letter-spacing:0.49px;"><b style="font-weight:inherit;margin:0 -0.1em">1</b> / <b style="font-weight:inherit;margin:0 -0.1em">1</b></span><span class="t" style="left:299.1px;top:713.8px;font-size:17.5px;line-height:23px;color:#7a8086;letter-spacing:0.33px;">X Accounts</span><svg style="left:125.300px;top:820.700px" width="48.400" height="48.400" viewBox="0 0 48.400 48.400"><circle cx="24.200" cy="24.200" r="24.200" fill="#1c4fc3"/><circle cx="24.200" cy="24.400" r="13.200" fill="none" stroke="#fff" stroke-width="7.200"/><rect x="21.100" y="5" width="6.200" height="20" rx="3" fill="#1c4fc3"/><circle cx="24.200" cy="24.400" r="9.700" fill="#1c4fc3"/></svg><span class="t" style="left:181.4px;top:832.5px;font-size:19.5px;line-height:25px;color:#55626c;letter-spacing:0.51px;">Circleboomer</span><div class="abs" style="left:308.600px;top:828.800px;width:30.800px;height:20.500px;border-radius:4px;background:#1fa9b8"></div><span class="t" style="left:313.0px;top:831.1px;font-size:13px;line-height:17px;color:#fff;letter-spacing:0.36px;-webkit-text-stroke:.3px #fff;">Pro</span><div class="hl" style="left:125.300px;top:882.800px;width:377.300px;background:#e4e6ec;height:1.400px"></div><span class="t" style="left:125.7px;top:899.5px;font-size:18.5px;line-height:24px;color:#55626c;letter-spacing:0.92px;">My Account</span><span class="t" style="left:125.7px;top:938.7px;font-size:18.5px;line-height:24px;color:#55626c;letter-spacing:0.58px;">Logout</span></div></body></html>
